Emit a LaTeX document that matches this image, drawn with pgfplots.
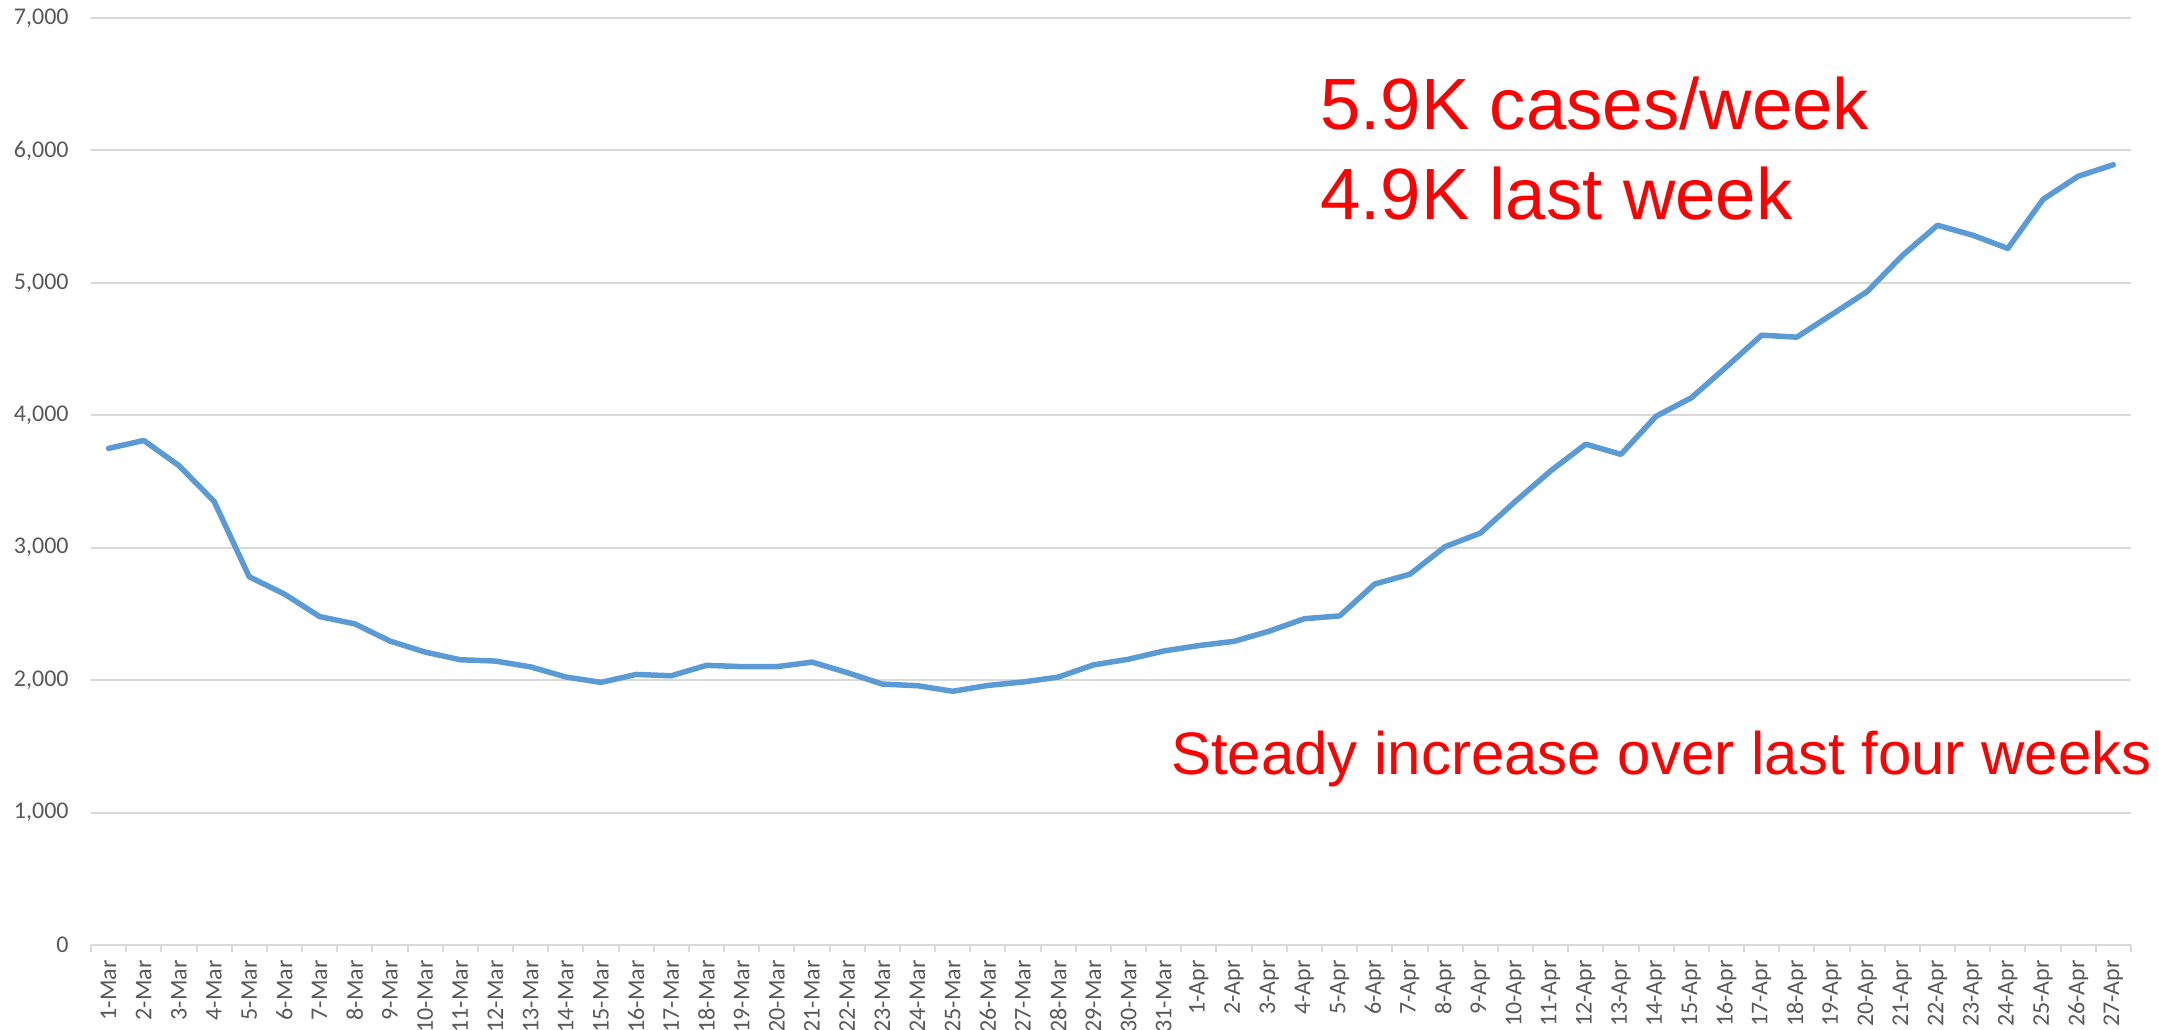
\documentclass[border=0pt]{standalone}
\usepackage{fontspec}
\setmainfont{Carlito}
\newfontfamily\arial{Liberation Sans}
\usepackage{pgfplots}
\pgfplotsset{compat=1.18}
\usepackage{pgfplotstable}

\definecolor{gridgray}{HTML}{D9D9D9}
\definecolor{labelgray}{HTML}{595959}
\definecolor{lineblue}{HTML}{5B9BD5}
\definecolor{annot}{HTML}{FF0000}

% daily cases, 1-Mar .. 27-Apr (index 0..57)
\pgfplotstableread{
idx cases
0 3750
1 3810
2 3620
3 3350
4 2780
5 2650
6 2480
7 2425
8 2295
9 2212
10 2154
11 2144
12 2100
13 2024
14 1983
15 2043
16 2033
17 2112
18 2102
19 2102
20 2136
21 2057
22 1970
23 1958
24 1916
25 1960
26 1986
27 2023
28 2115
29 2158
30 2220
31 2261
32 2293
33 2370
34 2464
35 2485
36 2726
37 2800
38 3008
39 3110
40 3350
41 3580
42 3782
43 3705
44 3993
45 4132
46 4366
47 4605
48 4590
49 4762
50 4934
51 5206
52 5435
53 5360
54 5260
55 5630
56 5805
57 5892
}\cases

\begin{document}
\begin{tikzpicture}
\useasboundingbox (0,0) rectangle (1079.5bp,515bp);
\begin{axis}[
    at={(45.5bp,42.5bp)}, anchor=south west,
    scale only axis,
    width=1020bp, height=463.5bp,
    xmin=-0.5, xmax=57.5,
    ymin=0, ymax=7000,
    axis x line*=bottom,
    axis y line*=left,
    x axis line style={draw=gridgray, line width=1bp, -},
    y axis line style={draw=none},
    ymajorgrids,
    grid style={draw=gridgray, line width=1bp},
    ytick={0,1000,...,7000},
    xtick={0,...,57},
    xticklabels={1-Mar,2-Mar,3-Mar,4-Mar,5-Mar,6-Mar,7-Mar,8-Mar,9-Mar,10-Mar,
        11-Mar,12-Mar,13-Mar,14-Mar,15-Mar,16-Mar,17-Mar,18-Mar,19-Mar,20-Mar,
        21-Mar,22-Mar,23-Mar,24-Mar,25-Mar,26-Mar,27-Mar,28-Mar,29-Mar,30-Mar,
        31-Mar,1-Apr,2-Apr,3-Apr,4-Apr,5-Apr,6-Apr,7-Apr,8-Apr,9-Apr,10-Apr,
        11-Apr,12-Apr,13-Apr,14-Apr,15-Apr,16-Apr,17-Apr,18-Apr,19-Apr,20-Apr,
        21-Apr,22-Apr,23-Apr,24-Apr,25-Apr,26-Apr,27-Apr},
    major tick length=0pt,
    tick align=outside,
    tick style={draw=gridgray, line width=1bp},
    extra x ticks={-0.5,0.5,...,57.5},
    extra x tick labels={},
    extra x tick style={major tick length=3.5bp, grid=none},
    xticklabel style={inner sep=0pt, yshift=-7.5bp, rotate=90, anchor=east,
        font=\fontsize{12bp}{14bp}\selectfont, text=labelgray},
    yticklabel style={inner sep=0pt, xshift=-11bp, anchor=east,
        font=\fontsize{12bp}{14bp}\selectfont, text=labelgray},
    /pgf/number format/.cd, 1000 sep={,}, assume math mode=true,
]
\addplot[color=lineblue, line width=2.75bp, line join=round, line cap=round, mark=none]
    table[x=idx, y=cases] {\cases};
\end{axis}
\node[anchor=base west, inner sep=0pt, text=annot, font=\arial\fontsize{36.3bp}{40bp}\selectfont]
    at (660bp,450bp) {5.9K cases/week};
\node[anchor=base west, inner sep=0pt, text=annot, font=\arial\fontsize{36.3bp}{40bp}\selectfont]
    at (660bp,405bp) {4.9K last week};
\node[anchor=base east, inner sep=0pt, text=annot, font=\arial\fontsize{30bp}{34bp}\selectfont]
    at (1076bp,127.5bp) {Steady increase over last four weeks};
\end{tikzpicture}
\end{document}
